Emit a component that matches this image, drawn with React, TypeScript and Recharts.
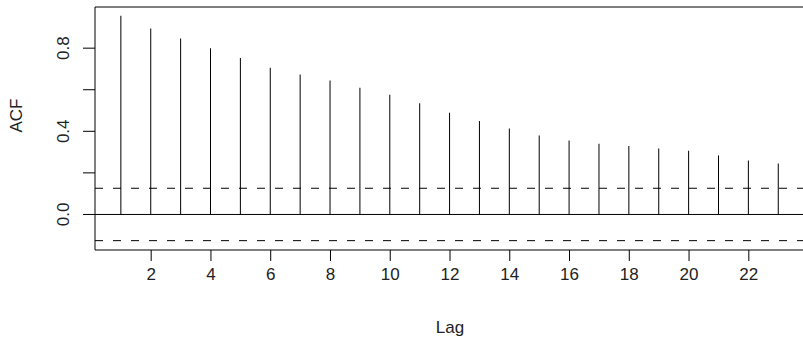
import { ComposedChart, Bar, XAxis, YAxis, ReferenceLine, ReferenceArea } from 'recharts';

const lags = [1, 2, 3, 4, 5, 6, 7, 8, 9, 10, 11, 12, 13, 14, 15, 16, 17, 18, 19, 20, 21, 22, 23];
const acfValues = [
  0.956, 0.895, 0.847, 0.799, 0.753, 0.706, 0.673, 0.644, 0.609, 0.576, 0.535, 0.489,
  0.449, 0.414, 0.38, 0.356, 0.34, 0.329, 0.317, 0.307, 0.284, 0.26, 0.245,
];
const lagTicks = [2, 4, 6, 8, 10, 12, 14, 16, 18, 20, 22];
const acfTicks = [0, 0.2, 0.4, 0.6, 0.8];
const acfLabelTicks = [0, 0.4, 0.8];
const ciBound = 0.126;

const xDomain = [0.12, 23.88];
const yDomain = [-0.171, 0.998];

const data = lags.map((lag, i) => ({ lag, acf: acfValues[i] }));

const font = '"Liberation Sans", Arial, sans-serif';
const textColor = '#222';

// R-style vertical tick labels, only every other tick is labelled
function YTick(props: any) {
  const { y, payload } = props;
  if (!acfLabelTicks.includes(payload.value)) return null;
  return (
    <text
      x={0}
      y={0}
      transform={`translate(69, ${y}) rotate(-90)`}
      textAnchor="middle"
      fontSize={17}
      fontFamily={font}
      fill={textColor}
    >
      {payload.value.toFixed(1)}
    </text>
  );
}

export default function App() {
  return (
    <div style={{ position: 'absolute', left: 0, top: 0, width: 803, height: 338, overflow: 'hidden', background: '#fff' }}>
      <ComposedChart
        width={806}
        height={338}
        data={data}
        margin={{ top: 7, right: 1, bottom: 0, left: 0 }}
      >
        <XAxis
          dataKey="lag"
          type="number"
          domain={xDomain}
          ticks={lagTicks}
          interval={0}
          allowDataOverflow
          axisLine={false}
          tickSize={11}
          tickMargin={7}
          tickLine={{ stroke: '#000' }}
          tick={{ fontSize: 17, fontFamily: font, fill: textColor }}
          height={88}
          label={{ value: 'Lag', position: 'insideBottom', offset: 5, fontSize: 17, fontFamily: font, fill: textColor }}
        />
        <YAxis
          type="number"
          domain={yDomain}
          ticks={acfTicks}
          interval={0}
          allowDataOverflow
          axisLine={false}
          tickSize={12}
          tickLine={{ stroke: '#000' }}
          tick={<YTick />}
          width={95}
          label={{ value: 'ACF', angle: -90, position: 'insideLeft', offset: 16, dy: 4, fontSize: 17, fontFamily: font, fill: textColor }}
        />
        <ReferenceArea
          x1={xDomain[0]}
          x2={xDomain[1]}
          y1={yDomain[0]}
          y2={yDomain[1]}
          fill="none"
          stroke="#000"
          strokeWidth={1}
        />
        <ReferenceLine y={0} stroke="#000" strokeWidth={1} />
        <ReferenceLine y={ciBound} stroke="#000" strokeWidth={1} strokeDasharray="8 10" />
        <ReferenceLine y={-ciBound} stroke="#000" strokeWidth={1} strokeDasharray="8 10" />
        <Bar dataKey="acf" fill="#000" barSize={1} isAnimationActive={false} />
      </ComposedChart>
    </div>
  );
}
